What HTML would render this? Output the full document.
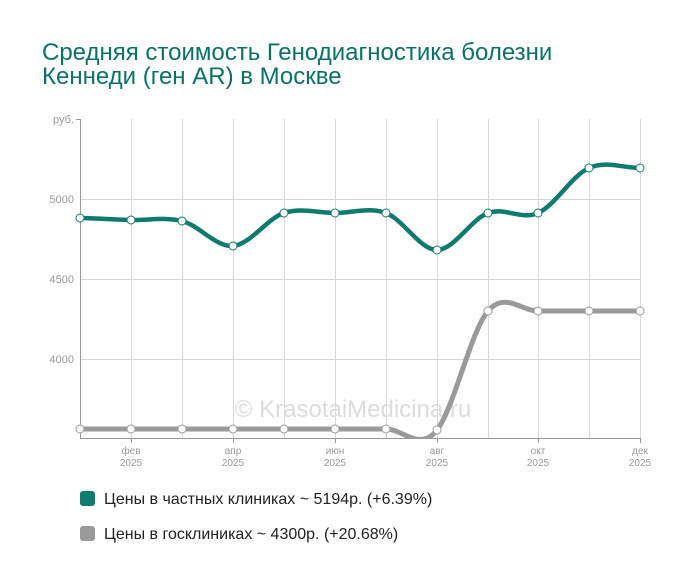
<!DOCTYPE html>
<html><head><meta charset="utf-8"><style>
body{margin:0;background:#fff;width:700px;height:582px;overflow:hidden;font-family:"Liberation Sans",sans-serif}
</style></head><body>
<svg width="700" height="582" xmlns="http://www.w3.org/2000/svg" font-family="Liberation Sans, sans-serif">
<text x="42" y="60" font-size="24" fill="#0b7167">Средняя стоимость Генодиагностика болезни</text>
<text x="42" y="84" font-size="24" fill="#0b7167">Кеннеди (ген AR) в Москве</text>
<g stroke="#d8d8d8" stroke-width="1">
<line x1="80" y1="199.5" x2="640" y2="199.5"/><line x1="80" y1="279.5" x2="640" y2="279.5"/><line x1="80" y1="359.5" x2="640" y2="359.5"/>
<line x1="131.5" y1="119" x2="131.5" y2="439"/><line x1="182.5" y1="119" x2="182.5" y2="439"/><line x1="233.5" y1="119" x2="233.5" y2="439"/>
<line x1="284.5" y1="119" x2="284.5" y2="439"/><line x1="335.5" y1="119" x2="335.5" y2="439"/><line x1="386.5" y1="119" x2="386.5" y2="439"/>
<line x1="437.5" y1="119" x2="437.5" y2="439"/><line x1="488.5" y1="119" x2="488.5" y2="439"/><line x1="538.5" y1="119" x2="538.5" y2="439"/>
<line x1="589.5" y1="119" x2="589.5" y2="439"/><line x1="640.5" y1="119" x2="640.5" y2="439"/>
</g>
<g stroke="#999" stroke-width="1">
<line x1="80.5" y1="119" x2="80.5" y2="439"/><line x1="76" y1="119.5" x2="80" y2="119.5"/>
<line x1="80" y1="438.5" x2="640" y2="438.5"/>
<line x1="131.5" y1="438" x2="131.5" y2="443"/><line x1="233.5" y1="438" x2="233.5" y2="443"/><line x1="335.5" y1="438" x2="335.5" y2="443"/><line x1="437.5" y1="438" x2="437.5" y2="443"/><line x1="538.5" y1="438" x2="538.5" y2="443"/><line x1="640.5" y1="438" x2="640.5" y2="443"/>
</g>
<g font-size="11" fill="#999" text-anchor="end">
<text x="74" y="123">руб.</text><text x="74" y="203">5000</text><text x="74" y="283">4500</text><text x="74" y="363">4000</text>
</g>
<g font-size="10" fill="#999" text-anchor="middle">
<text x="131" y="454">фев</text><text x="131" y="466">2025</text>
<text x="233" y="454">апр</text><text x="233" y="466">2025</text>
<text x="335" y="454">июн</text><text x="335" y="466">2025</text>
<text x="437" y="454">авг</text><text x="437" y="466">2025</text>
<text x="538" y="454">окт</text><text x="538" y="466">2025</text>
<text x="640" y="454">дек</text><text x="640" y="466">2025</text>
</g>
<text x="353" y="417" font-size="24" fill="#dcdcdc" text-anchor="middle">© KrasotaiMedicina.ru</text>
<defs><clipPath id="c"><rect x="80" y="100" width="580" height="338"/></clipPath></defs>
<g clip-path="url(#c)" fill="none" stroke-linecap="round">
<path d="M80 429 L386 429 C403 429 420 452 437 430 C454 408 471 330.8 488 311 C505 291.2 521 311 538 311 C555 311 572 311 589 311 C606 311 623 311 640 311" stroke="#9a9a9a" stroke-width="5"/>
<path d="M80 218 C97 218.3 114 219.5 131 220 C148 220.5 165 216.7 182 221 C199 225.3 216 247.3 233 246 C250 244.7 267 218.5 284 213 C301 207.5 318 213 335 213 C352 213 369 206.8 386 213 C403 219.2 420 250 437 250 C454 250 471 219.2 488 213 C505 206.8 521 220.5 538 213 C555 205.5 572 175.5 589 168 C606 160.5 623 168 640 168" stroke="#0f7a70" stroke-width="4.5"/>
</g>
<g fill="#fff" stroke="#9a9a9a" stroke-width="1">
<circle cx="80" cy="429" r="4"/><circle cx="131" cy="429" r="4"/><circle cx="182" cy="429" r="4"/><circle cx="233" cy="429" r="4"/><circle cx="284" cy="429" r="4"/><circle cx="335" cy="429" r="4"/><circle cx="386" cy="429" r="4"/><circle cx="437" cy="430" r="4"/><circle cx="488" cy="311" r="4"/><circle cx="538" cy="311" r="4"/><circle cx="589" cy="311" r="4"/><circle cx="640" cy="311" r="4"/>
</g>
<g fill="#fff" stroke="#0f7a70" stroke-width="1">
<circle cx="80" cy="218" r="4"/><circle cx="131" cy="220" r="4"/><circle cx="182" cy="221" r="4"/><circle cx="233" cy="246" r="4"/><circle cx="284" cy="213" r="4"/><circle cx="335" cy="213" r="4"/><circle cx="386" cy="213" r="4"/><circle cx="437" cy="250" r="4"/><circle cx="488" cy="213" r="4"/><circle cx="538" cy="213" r="4"/><circle cx="589" cy="168" r="4"/><circle cx="640" cy="168" r="4"/>
</g>
<rect x="80" y="491" width="15" height="15" rx="3" fill="#0f7a70"/>
<text x="104" y="504" font-size="16" fill="#222">Цены в частных клиниках ~ 5194р. (+6.39%)</text>
<rect x="80" y="526" width="15" height="15" rx="3" fill="#9a9a9a"/>
<text x="104" y="539" font-size="16" fill="#222">Цены в госклиниках ~ 4300р. (+20.68%)</text>
</svg>
</body></html>
